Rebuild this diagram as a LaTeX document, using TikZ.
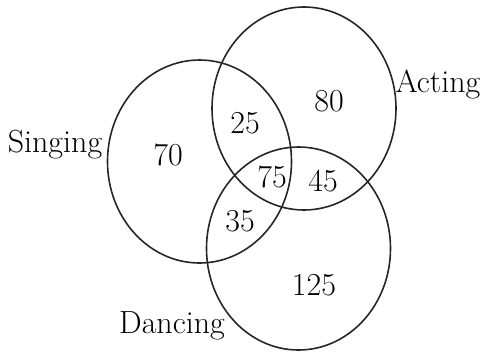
\documentclass[tikz,border=0pt]{standalone}
\usepackage{amsmath,amssymb}

\begin{document}
\begin{tikzpicture}[x=1pt,y=-1pt,
  set/.style={draw=black!85,line width=1.6pt},
  lbl/.style={font=\fontsize{32}{36}\selectfont,inner sep=0pt},
  num/.style={font=\fontsize{32}{36}\selectfont,inner sep=0pt}]
  \useasboundingbox (0,0) rectangle (481,354);
  % centres of the sets
  \coordinate (s) at (199.5,161.5);
  \coordinate (a) at (304,108.5);
  \coordinate (d) at (298.5,248.5);
  % sets
  \draw[set] (s) ellipse [x radius=92,y radius=101.5];
  \draw[set] (a) ellipse [x radius=92,y radius=101.5];
  \draw[set] (d) ellipse [x radius=92,y radius=101.5];
  % names of the sets
  \node[lbl] (sname) at (55,145) {Singing};
  \node[lbl] (aname) at (438,84) {Acting};
  \node[lbl] (dname) at (172,326) {Dancing};
  % counts in the regions
  \node[num] (sonly) at (168,155) {70};
  \node[num] (aonly) at (329,101) {80};
  \node[num] (donly) at (314,285) {125};
  \node[num] (sa) at (245,123) {25};
  \node[num] (sd) at (240,221) {35};
  \node[num] (ad) at (323,181) {45};
  \node[num] (sad) at (272,177) {75};
\end{tikzpicture}
\end{document}
